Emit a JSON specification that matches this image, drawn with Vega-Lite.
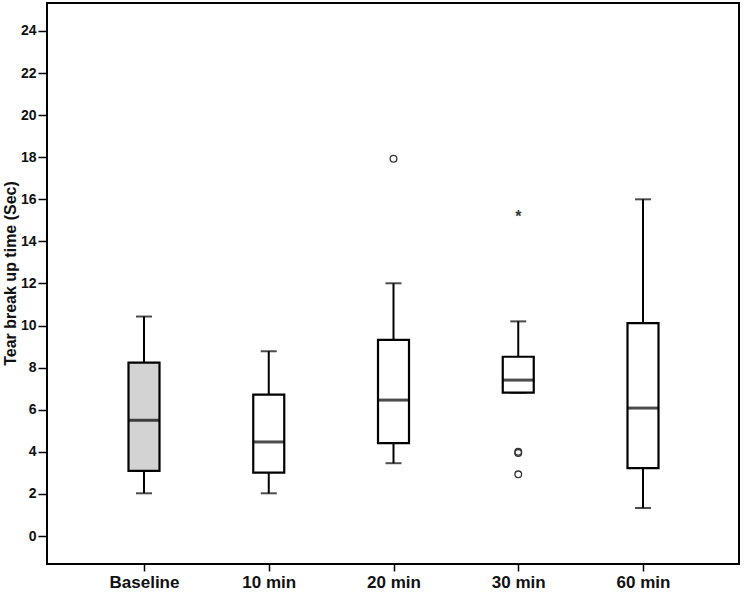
{
  "$schema": "https://vega.github.io/schema/vega-lite/v6.json",
  "autosize": {"type": "none"},
  "width": 692,
  "height": 561,
  "padding": {"left": 47, "top": 3, "right": 5, "bottom": 30},
  "background": "white",
  "config": {
    "view": {"stroke": "black", "strokeWidth": 2},
    "font": "Liberation Sans",
    "axis": {"domain": false, "grid": false, "tickColor": "black", "tickWidth": 1.5, "labelColor": "#111111", "titleColor": "#111111", "labelFont": "Liberation Sans", "titleFont": "Liberation Sans", "labelFontWeight": "bold", "titleFontWeight": "bold"}
  },
  "datasets": {
    "boxes": [
      {"cat": "Baseline", "lower": 2.03, "q1": 3.1, "median": 5.5, "q3": 8.24, "upper": 10.43},
      {"cat": "10 min", "lower": 2.03, "q1": 3.01, "median": 4.47, "q3": 6.72, "upper": 8.78},
      {"cat": "20 min", "lower": 3.46, "q1": 4.41, "median": 6.46, "q3": 9.32, "upper": 12.01},
      {"cat": "30 min", "lower": 6.81, "q1": 6.81, "median": 7.41, "q3": 8.52, "upper": 10.2},
      {"cat": "60 min", "lower": 1.33, "q1": 3.23, "median": 6.08, "q3": 10.12, "upper": 16.0}
    ],
    "outliers": [
      {"cat": "20 min", "value": 17.93},
      {"cat": "30 min", "value": 4.0},
      {"cat": "30 min", "value": 3.95},
      {"cat": "30 min", "value": 2.93}
    ],
    "extremes": [
      {"cat": "30 min", "value": 15.3, "sym": "*"}
    ]
  },
  "encoding": {
    "x": {
      "field": "cat", "type": "nominal",
      "sort": ["Baseline", "10 min", "20 min", "30 min", "60 min"],
      "scale": {"type": "point", "range": [97, 596], "padding": 0},
      "axis": {"title": null, "labelAngle": 0, "labelFontSize": 17, "labelPadding": 3, "tickSize": 7}
    }
  },
  "layer": [
    {
      "data": {"name": "boxes"},
      "mark": {"type": "rule", "stroke": "black", "strokeWidth": 2},
      "encoding": {
        "y": {"field": "lower", "type": "quantitative",
          "scale": {"domain": [-1.33, 25.33], "nice": false, "zero": false},
          "axis": {"title": "Tear break up time (Sec)", "titleFontSize": 16, "titleX": -37, "titleY": 270, "titleAngle": -90, "titleAlign": "center", "titleBaseline": "middle", "labelFontSize": 14, "values": [0,2,4,6,8,10,12,14,16,18,20,22,24], "labelPadding": 2, "tickSize": 9}},
        "y2": {"field": "upper"}
      }
    },
    {
      "data": {"name": "boxes"},
      "mark": {"type": "tick", "orient": "horizontal", "color": "black", "size": 16, "thickness": 2},
      "encoding": {"y": {"field": "lower", "type": "quantitative"}}
    },
    {
      "data": {"name": "boxes"},
      "mark": {"type": "tick", "orient": "horizontal", "color": "black", "size": 16, "thickness": 2},
      "encoding": {"y": {"field": "upper", "type": "quantitative"}}
    },
    {
      "data": {"name": "boxes"},
      "mark": {"type": "bar", "size": 31, "stroke": "black", "strokeWidth": 2.2},
      "encoding": {
        "y": {"field": "q1", "type": "quantitative"},
        "y2": {"field": "q3"},
        "fill": {"condition": {"test": "datum.cat === 'Baseline'", "value": "#d3d3d3"}, "value": "white"}
      }
    },
    {
      "data": {"name": "boxes"},
      "mark": {"type": "tick", "orient": "horizontal", "color": "black", "size": 31, "thickness": 3},
      "encoding": {"y": {"field": "median", "type": "quantitative"}}
    },
    {
      "data": {"name": "outliers"},
      "mark": {"type": "point", "shape": "circle", "filled": false, "stroke": "#333333", "strokeWidth": 1.3, "size": 45, "opacity": 1},
      "encoding": {"y": {"field": "value", "type": "quantitative"}}
    },
    {
      "data": {"name": "extremes"},
      "mark": {"type": "text", "fontSize": 16, "fontWeight": "bold", "color": "#333333", "baseline": "middle", "dy": 3},
      "encoding": {"y": {"field": "value", "type": "quantitative"}, "text": {"field": "sym"}}
    }
  ]
}
